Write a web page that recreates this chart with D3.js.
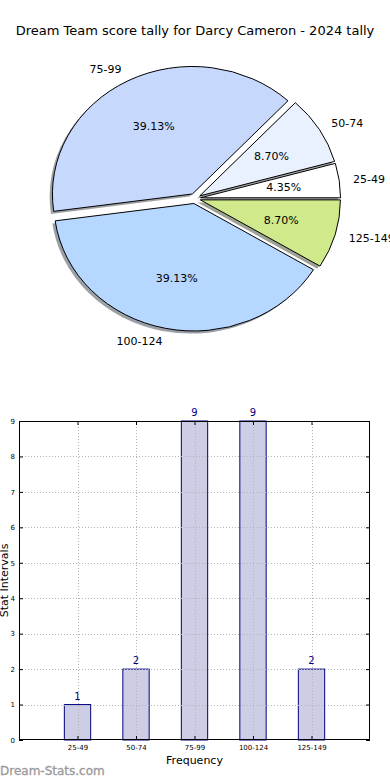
<!DOCTYPE html>
<html>
<head>
<meta charset="utf-8">
<script src="https://cdn.jsdelivr.net/npm/d3@7/dist/d3.min.js"></script>
<style>
  body { margin: 0; background: #fff; }
  svg { display: block; font-family: "DejaVu Sans", sans-serif; }
</style>
</head>
<body>
<script>
const title = "Dream Team score tally for Darcy Cameron - 2024 tally";
const categories = ["25-49", "50-74", "75-99", "100-124", "125-149"];
const counts = [1, 2, 9, 9, 2];
const pieColors = ["#ffffff", "#eaf1fe", "#c6d9fd", "#b6d7ff", "#d0ea8b"];
const yTicks = [0, 1, 2, 3, 4, 5, 6, 7, 8, 9];

const width = 390, height = 780;
const svg = d3.select("body").append("svg")
    .attr("width", width)
    .attr("height", height);

svg.append("text")
    .attr("x", 195).attr("y", 35)
    .attr("text-anchor", "middle")
    .attr("font-size", 13)
    .text(title);

// ---- pie (matplotlib style: ccw from 3 o'clock, exploded, shadow) ----
const cx = 195, cy = 198.5, rx = 140, ry = 127.5, explode = 0.04;
const total = d3.sum(counts);

const pie = d3.pie().sort(null)
    .startAngle(Math.PI / 2)
    .endAngle(Math.PI / 2 - 2 * Math.PI);
const arcs = pie(counts);
const arc = d3.arc().innerRadius(0).outerRadius(rx);

const pieG = svg.append("g")
    .attr("transform", "translate(" + cx + "," + cy + ") scale(1," + (ry / rx) + ")");

function offset(d) {
    let a = (d.startAngle + d.endAngle) / 2;
    return [explode * rx * Math.sin(a), -explode * rx * Math.cos(a)];
}

// shadows first
pieG.selectAll(".shadow")
    .data(arcs)
    .enter().append("path")
    .attr("class", "shadow")
    .attr("d", arc)
    .attr("transform", function(d) {
        let o = offset(d);
        return "translate(" + (o[0] - 2.8) + "," + (o[1] + 2.8) + ")";
    })
    .attr("fill", function(d, i) {
        let c = d3.rgb(pieColors[i]);
        return d3.rgb(c.r * 0.3, c.g * 0.3, c.b * 0.3);
    })
    .attr("fill-opacity", 0.5);

pieG.selectAll(".wedge")
    .data(arcs)
    .enter().append("path")
    .attr("class", "wedge")
    .attr("d", arc)
    .attr("transform", function(d) {
        let o = offset(d);
        return "translate(" + o[0] + "," + o[1] + ")";
    })
    .attr("fill", function(d, i) { return pieColors[i]; })
    .attr("stroke", "#000")
    .attr("stroke-width", 1)
    .attr("vector-effect", "non-scaling-stroke");

arcs.forEach(function(d, i) {
    let a = (d.startAngle + d.endAngle) / 2;
    let sx = Math.sin(a), sy = -Math.cos(a);
    let lx = cx + (explode + 1.1) * rx * sx;
    let ly = cy + (explode + 1.1) * ry * sy;
    svg.append("text")
        .attr("x", lx).attr("y", ly)
        .attr("dy", "0.35em")
        .attr("text-anchor", lx < cx ? "end" : "start")
        .attr("font-size", 11)
        .text(categories[i]);
    let px = cx + (explode + 0.6) * rx * sx;
    let py = cy + (explode + 0.6) * ry * sy;
    svg.append("text")
        .attr("x", px).attr("y", py)
        .attr("dy", "0.35em")
        .attr("text-anchor", "middle")
        .attr("font-size", 11)
        .text((counts[i] / total * 100).toFixed(2) + "%");
});

// ---- bar chart ----
const plotL = 19, plotR = 370, plotT = 421, plotB = 740;
const x = d3.scaleLinear().domain([-1, 5]).range([plotL, plotR]);
const y = d3.scaleLinear().domain([0, 9]).range([plotB, plotT]);
const barW = 0.45;
const idx = d3.range(categories.length);

const bars = svg.append("g");
bars.selectAll("rect")
    .data(counts)
    .enter().append("rect")
    .attr("x", function(d, i) { return x(i - barW / 2); })
    .attr("y", function(d) { return y(d); })
    .attr("width", x(barW) - x(0))
    .attr("height", function(d) { return y(0) - y(d); })
    .attr("fill", "#cdcde6")
    .attr("stroke", "#000080")
    .attr("stroke-width", 1);

// grid on top of bars
const grid = svg.append("g")
    .attr("stroke", "#b4b4b4")
    .attr("stroke-width", 1)
    .attr("stroke-dasharray", "1,2");
grid.selectAll(".gy")
    .data(yTicks.slice(1, -1))
    .enter().append("line")
    .attr("x1", plotL).attr("x2", plotR)
    .attr("y1", function(d) { return Math.round(y(d)) + 0.5; })
    .attr("y2", function(d) { return Math.round(y(d)) + 0.5; });
grid.selectAll(".gx")
    .data(idx)
    .enter().append("line")
    .attr("x1", function(d) { return Math.round(x(d)) + 0.5; })
    .attr("x2", function(d) { return Math.round(x(d)) + 0.5; })
    .attr("y1", plotT).attr("y2", plotB);

svg.append("g").selectAll("text")
    .data(counts)
    .enter().append("text")
    .attr("x", function(d, i) { return x(i); })
    .attr("y", function(d) { return y(d) - 5; })
    .attr("text-anchor", "middle")
    .attr("font-size", 10)
    .attr("fill", "#000080")
    .text(function(d) { return d; });

// axes frame
svg.append("rect")
    .attr("x", plotL + 0.5).attr("y", plotT + 0.5)
    .attr("width", plotR - plotL - 1).attr("height", plotB - plotT - 1)
    .attr("fill", "none")
    .attr("stroke", "#000")
    .attr("stroke-width", 1);

const yAxis = d3.axisLeft(y).tickValues(yTicks).tickSize(-4).tickPadding(4);
const yAxisR = d3.axisRight(y).tickValues(yTicks).tickSize(-4).tickFormat("");
const xAxis = d3.axisBottom(x).tickValues(idx).tickSize(-4).tickPadding(5)
    .tickFormat(function(d) { return categories[d]; });
const xAxisT = d3.axisTop(x).tickValues(idx).tickSize(-4).tickFormat("");

[svg.append("g").attr("transform", "translate(" + plotL + ",0)").call(yAxis),
 svg.append("g").attr("transform", "translate(" + plotR + ",0)").call(yAxisR),
 svg.append("g").attr("transform", "translate(0," + plotB + ")").call(xAxis),
 svg.append("g").attr("transform", "translate(0," + plotT + ")").call(xAxisT)
].forEach(function(g) {
    g.select(".domain").remove();
    g.selectAll("line").attr("stroke", "#000");
    g.selectAll("text").attr("font-size", 7).attr("fill", "#000")
        .attr("font-family", "DejaVu Sans, sans-serif");
});

svg.append("text")
    .attr("x", x(2)).attr("y", 764)
    .attr("text-anchor", "middle")
    .attr("font-size", 11)
    .text("Frequency");

svg.append("text")
    .attr("transform", "translate(8," + ((plotT + plotB) / 2) + ") rotate(-90)")
    .attr("text-anchor", "middle")
    .attr("font-size", 11)
    .text("Stat Intervals");

svg.append("text")
    .attr("x", 0).attr("y", 775)
    .attr("font-size", 12)
    .attr("fill", "#999")
    .attr("stroke", "#999")
    .attr("stroke-width", 0.3)
    .text("Dream-Stats.com");
</script>
</body>
</html>
